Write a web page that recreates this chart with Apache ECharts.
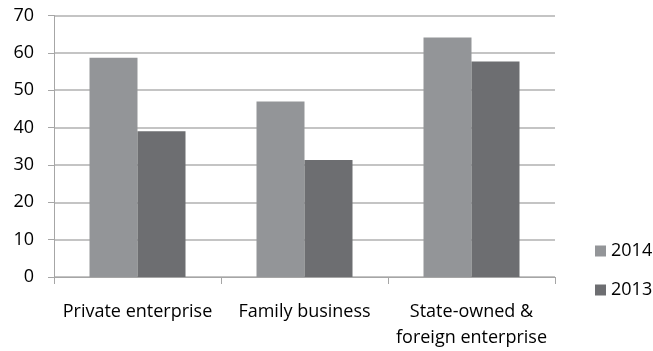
<!DOCTYPE html>
<html>
<head>
<meta charset="utf-8">
<style>
  html, body { margin: 0; padding: 0; background: #ffffff; }
  #chart { width: 653px; height: 351px; }
</style>
<script src="https://cdn.jsdelivr.net/npm/echarts@6/dist/echarts.min.js"></script>
</head>
<body>
<div id="chart"></div>
<script>
// Enterprise types along the x axis
const categories = ['Private enterprise', 'Family business', 'State-owned &\nforeign enterprise'];
// Shares per year
const values2014 = [58.7, 47.0, 64.1];
const values2013 = [39.0, 31.3, 57.7];
// Y axis range
const yMin = 0;
const yMax = 70;
const yStep = 10;

const FONT = '"Open Sans", sans-serif';
const chart = echarts.init(document.getElementById('chart'), null, { renderer: 'canvas' });

chart.setOption({
  animation: false,
  backgroundColor: '#ffffff',
  grid: { left: 54, right: 98, top: 15.5, bottom: 72, containLabel: false },
  legend: {
    orient: 'vertical',
    left: 590,
    top: 234,
    itemWidth: 11,
    itemHeight: 11,
    itemGap: 15,
    icon: 'rect',
    textStyle: { fontFamily: FONT, fontSize: 18, color: '#000000', lineHeight: 24 },
    data: ['2014', '2013']
  },
  xAxis: {
    type: 'category',
    data: categories,
    axisLine: { show: true, lineStyle: { color: '#a6a6a6', width: 1 } },
    axisTick: { show: true, length: 7, lineStyle: { color: '#a6a6a6' } },
    axisLabel: {
      fontFamily: FONT, fontSize: 18, color: '#000000',
      margin: 22, lineHeight: 26, interval: 0
    },
    splitLine: { show: false }
  },
  yAxis: {
    type: 'value',
    min: yMin,
    max: yMax,
    interval: yStep,
    axisLine: { show: true, lineStyle: { color: '#a6a6a6', width: 1 } },
    axisTick: { show: true, length: 6, lineStyle: { color: '#a6a6a6' } },
    axisLabel: { fontFamily: FONT, fontSize: 18, color: '#000000', margin: 20 },
    splitLine: { show: true, lineStyle: { color: '#b0b0b0', width: 1.5 } }
  },
  series: [
    {
      name: '2014',
      type: 'bar',
      data: values2014,
      barWidth: 48,
      barGap: '0%',
      itemStyle: { color: '#939598' }
    },
    {
      name: '2013',
      type: 'bar',
      data: values2013,
      barWidth: 48,
      barGap: '0%',
      itemStyle: { color: '#6d6e71' }
    }
  ]
});
</script>
</body>
</html>
